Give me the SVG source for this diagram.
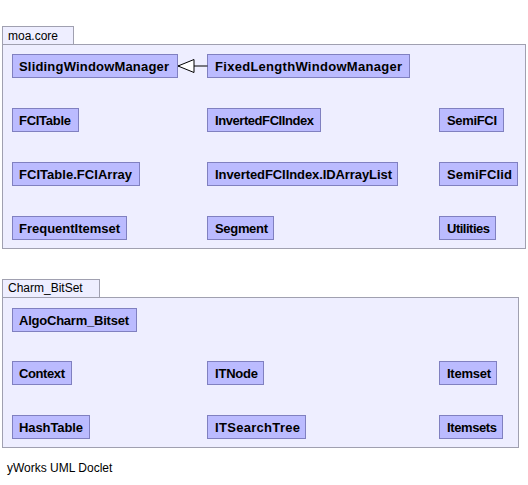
<svg xmlns="http://www.w3.org/2000/svg" width="528" height="485" viewBox="0 0 528 485">
<style>
.pkg{fill:#eeeeff;stroke:#a0a0b0;stroke-width:1}
.pl{font-family:"Liberation Sans",Arial,sans-serif;font-size:12px;fill:#000}
.n rect{fill:#bbbbff;stroke:#8080c0;stroke-width:1}
.n text{font-family:"Liberation Sans",Arial,sans-serif;font-size:13px;font-weight:bold;fill:#000}
.edge{stroke:#000;stroke-width:1;fill:none}
</style>
<defs>
<marker id="tri" markerWidth="18" markerHeight="14" refX="16.5" refY="7" orient="auto" markerUnits="userSpaceOnUse">
<path d="M0.5,0.5 L16.5,7 L0.5,13.5 Z" fill="#fff" stroke="#000" stroke-width="1"/>
</marker>
</defs>
<rect width="528" height="485" fill="#fff"/>
<g id="pkg-moa-core">
<rect class="pkg" x="2.5" y="26.5" width="71" height="18"/>
<rect class="pkg" x="2.5" y="44.5" width="523" height="204"/>
<text class="pl" x="8" y="40">moa.core</text>
</g>
<g id="pkg-charm">
<rect class="pkg" x="2.5" y="279.5" width="97" height="18"/>
<rect class="pkg" x="2.5" y="297.5" width="516" height="150"/>
<text class="pl" x="8" y="292">Charm_BitSet</text>
</g>
<g id="SlidingWindowManager" class="n"><rect x="12.5" y="54.5" width="165" height="23"/><text x="19" y="71" textLength="150">SlidingWindowManager</text></g>
<g id="FixedLengthWindowManager" class="n"><rect x="207.5" y="54.5" width="202" height="23"/><text x="215" y="71" textLength="187">FixedLengthWindowManager</text></g>
<g id="FCITable" class="n"><rect x="12.5" y="108.5" width="66" height="23"/><text x="19" y="125" textLength="52">FCITable</text></g>
<g id="InvertedFCIIndex" class="n"><rect x="207.5" y="108.5" width="113" height="23"/><text x="215" y="125" textLength="99">InvertedFCIIndex</text></g>
<g id="SemiFCI" class="n"><rect x="439.5" y="108.5" width="64" height="23"/><text x="447" y="125" textLength="50">SemiFCI</text></g>
<g id="FCITable.FCIArray" class="n"><rect x="12.5" y="162.5" width="127" height="23"/><text x="19" y="179" textLength="113">FCITable.FCIArray</text></g>
<g id="InvertedFCIIndex.IDArrayList" class="n"><rect x="207.5" y="162.5" width="190" height="23"/><text x="215" y="179" textLength="177">InvertedFCIIndex.IDArrayList</text></g>
<g id="SemiFCIid" class="n"><rect x="439.5" y="162.5" width="78" height="23"/><text x="447" y="179" textLength="65">SemiFCIid</text></g>
<g id="FrequentItemset" class="n"><rect x="12.5" y="216.5" width="114" height="23"/><text x="19" y="233" textLength="101">FrequentItemset</text></g>
<g id="Segment" class="n"><rect x="207.5" y="216.5" width="66" height="23"/><text x="215" y="233" textLength="53">Segment</text></g>
<g id="Utilities" class="n"><rect x="439.5" y="216.5" width="56" height="23"/><text x="447" y="233" textLength="43">Utilities</text></g>
<g id="AlgoCharm_Bitset" class="n"><rect x="12.5" y="308.5" width="124" height="23"/><text x="19" y="325" textLength="110">AlgoCharm_Bitset</text></g>
<g id="Context" class="n"><rect x="12.5" y="361.5" width="59" height="23"/><text x="19" y="378" textLength="46">Context</text></g>
<g id="ITNode" class="n"><rect x="207.5" y="361.5" width="56" height="23"/><text x="215" y="378" textLength="43">ITNode</text></g>
<g id="Itemset" class="n"><rect x="439.5" y="361.5" width="57" height="23"/><text x="447" y="378" textLength="44">Itemset</text></g>
<g id="HashTable" class="n"><rect x="12.5" y="415.5" width="77" height="23"/><text x="19" y="432" textLength="64">HashTable</text></g>
<g id="ITSearchTree" class="n"><rect x="207.5" y="415.5" width="98" height="23"/><text x="215" y="432" textLength="85">ITSearchTree</text></g>
<g id="Itemsets" class="n"><rect x="439.5" y="415.5" width="63" height="23"/><text x="447" y="432" textLength="50">Itemsets</text></g>
<g id="connectors">
<line class="edge" x1="207.5" y1="66" x2="178" y2="66" marker-end="url(#tri)"/>
</g>
<text class="pl" x="7" y="472">yWorks UML Doclet</text>
</svg>
